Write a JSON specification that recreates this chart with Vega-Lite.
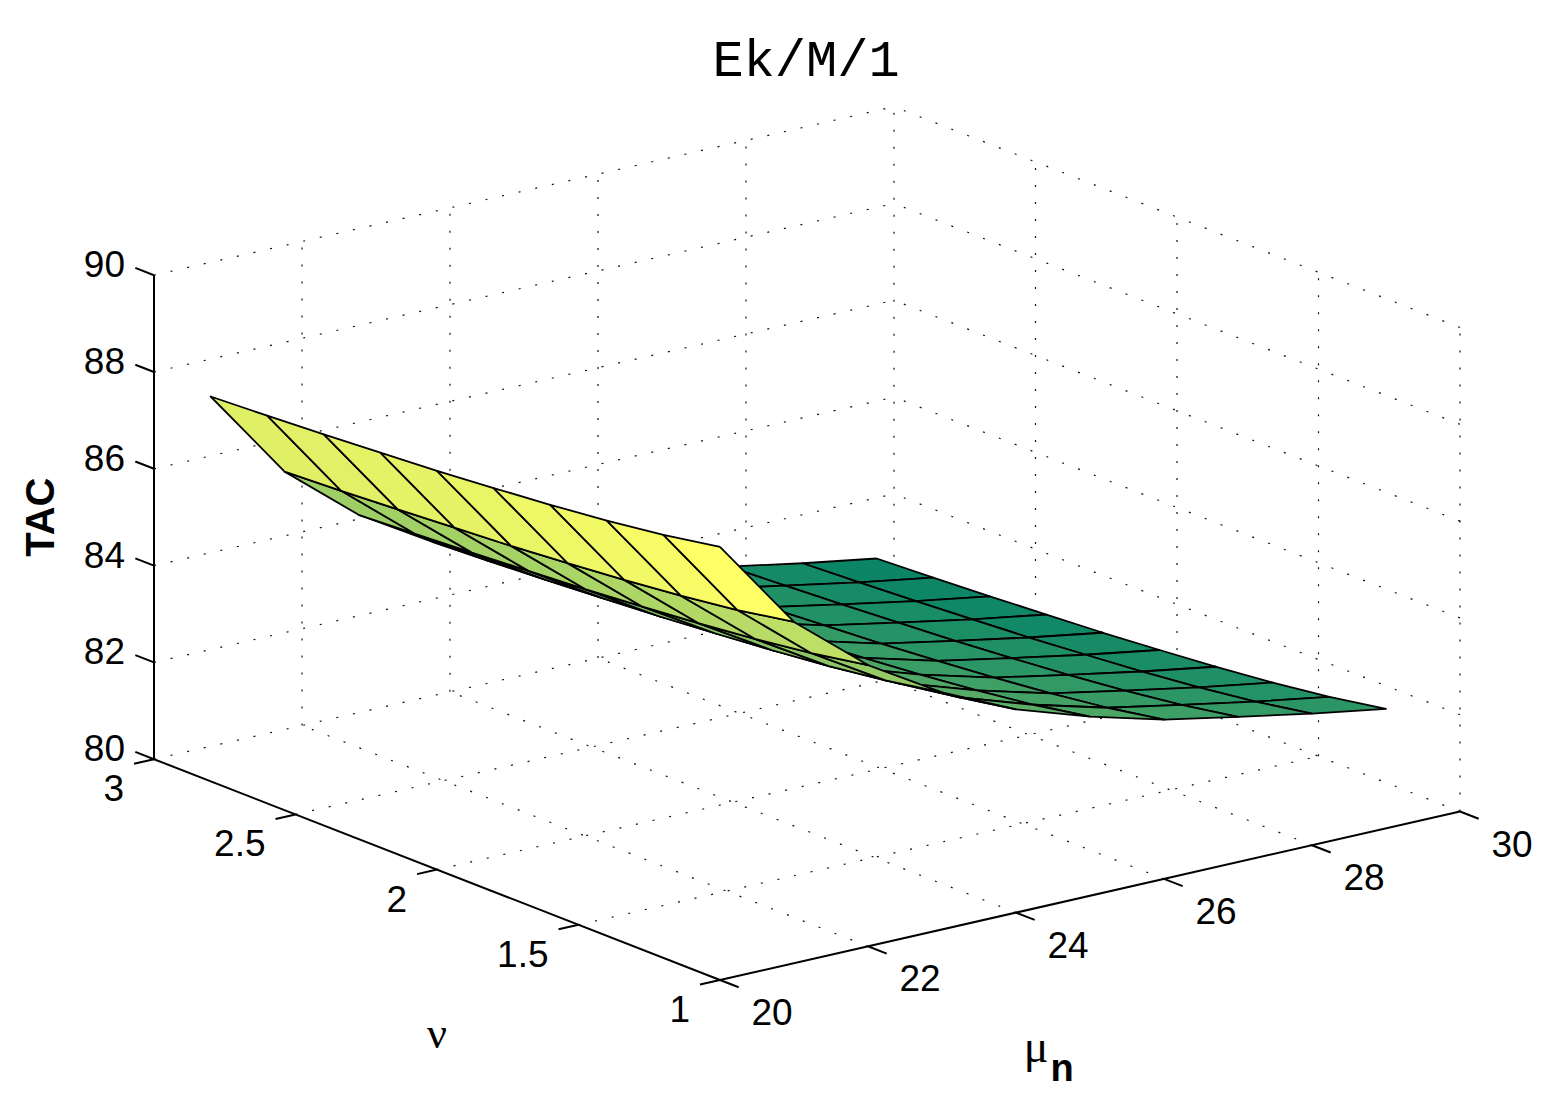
{
  "$schema": "https://vega.github.io/schema/vega-lite/v6.json",
  "width": 1554,
  "height": 1113,
  "padding": 0,
  "autosize": {"type": "none"},
  "background": "white",
  "config": {"view": {"stroke": null}},
  "title": {"text": "Ek/M/1", "font": "Liberation Mono", "fontSize": 52, "fontWeight": "normal", "color": "black", "anchor": "middle", "frame": "group", "offset": -75, "baseline": "alphabetic", "dx": 29, "dy": 53},
  "datasets": {
    "surf": [
      {"mu":29,"nu":2.8,"tac":81.47},{"mu":28,"nu":2.8,"tac":81.72},{"mu":27,"nu":2.8,"tac":82.00},{"mu":26,"nu":2.8,"tac":82.29},{"mu":25,"nu":2.8,"tac":82.70},{"mu":24,"nu":2.8,"tac":83.20},{"mu":23,"nu":2.8,"tac":83.90},{"mu":22,"nu":2.8,"tac":84.81},{"mu":21,"nu":2.8,"tac":86.05},{"mu":20,"nu":2.8,"tac":87.95},
      {"mu":29,"nu":2.6,"tac":81.53},{"mu":28,"nu":2.6,"tac":81.78},{"mu":27,"nu":2.6,"tac":82.06},{"mu":26,"nu":2.6,"tac":82.35},{"mu":25,"nu":2.6,"tac":82.76},{"mu":24,"nu":2.6,"tac":83.26},{"mu":23,"nu":2.6,"tac":83.96},{"mu":22,"nu":2.6,"tac":84.87},{"mu":21,"nu":2.6,"tac":86.11},{"mu":20,"nu":2.6,"tac":88.01},
      {"mu":29,"nu":2.4,"tac":81.60},{"mu":28,"nu":2.4,"tac":81.85},{"mu":27,"nu":2.4,"tac":82.13},{"mu":26,"nu":2.4,"tac":82.42},{"mu":25,"nu":2.4,"tac":82.83},{"mu":24,"nu":2.4,"tac":83.33},{"mu":23,"nu":2.4,"tac":84.03},{"mu":22,"nu":2.4,"tac":84.94},{"mu":21,"nu":2.4,"tac":86.18},{"mu":20,"nu":2.4,"tac":88.08},
      {"mu":29,"nu":2.2,"tac":81.68},{"mu":28,"nu":2.2,"tac":81.93},{"mu":27,"nu":2.2,"tac":82.21},{"mu":26,"nu":2.2,"tac":82.50},{"mu":25,"nu":2.2,"tac":82.91},{"mu":24,"nu":2.2,"tac":83.41},{"mu":23,"nu":2.2,"tac":84.11},{"mu":22,"nu":2.2,"tac":85.02},{"mu":21,"nu":2.2,"tac":86.26},{"mu":20,"nu":2.2,"tac":88.16},
      {"mu":29,"nu":2.0,"tac":81.76},{"mu":28,"nu":2.0,"tac":82.01},{"mu":27,"nu":2.0,"tac":82.29},{"mu":26,"nu":2.0,"tac":82.58},{"mu":25,"nu":2.0,"tac":82.99},{"mu":24,"nu":2.0,"tac":83.49},{"mu":23,"nu":2.0,"tac":84.19},{"mu":22,"nu":2.0,"tac":85.10},{"mu":21,"nu":2.0,"tac":86.34},{"mu":20,"nu":2.0,"tac":88.24},
      {"mu":29,"nu":1.8,"tac":81.86},{"mu":28,"nu":1.8,"tac":82.11},{"mu":27,"nu":1.8,"tac":82.39},{"mu":26,"nu":1.8,"tac":82.68},{"mu":25,"nu":1.8,"tac":83.09},{"mu":24,"nu":1.8,"tac":83.59},{"mu":23,"nu":1.8,"tac":84.29},{"mu":22,"nu":1.8,"tac":85.20},{"mu":21,"nu":1.8,"tac":86.44},{"mu":20,"nu":1.8,"tac":88.34},
      {"mu":29,"nu":1.6,"tac":81.97},{"mu":28,"nu":1.6,"tac":82.22},{"mu":27,"nu":1.6,"tac":82.50},{"mu":26,"nu":1.6,"tac":82.79},{"mu":25,"nu":1.6,"tac":83.20},{"mu":24,"nu":1.6,"tac":83.70},{"mu":23,"nu":1.6,"tac":84.40},{"mu":22,"nu":1.6,"tac":85.31},{"mu":21,"nu":1.6,"tac":86.55},{"mu":20,"nu":1.6,"tac":88.45},
      {"mu":29,"nu":1.4,"tac":82.10},{"mu":28,"nu":1.4,"tac":82.35},{"mu":27,"nu":1.4,"tac":82.63},{"mu":26,"nu":1.4,"tac":82.92},{"mu":25,"nu":1.4,"tac":83.33},{"mu":24,"nu":1.4,"tac":83.83},{"mu":23,"nu":1.4,"tac":84.53},{"mu":22,"nu":1.4,"tac":85.44},{"mu":21,"nu":1.4,"tac":86.68},{"mu":20,"nu":1.4,"tac":88.58},
      {"mu":29,"nu":1.2,"tac":82.26},{"mu":28,"nu":1.2,"tac":82.51},{"mu":27,"nu":1.2,"tac":82.79},{"mu":26,"nu":1.2,"tac":83.08},{"mu":25,"nu":1.2,"tac":83.49},{"mu":24,"nu":1.2,"tac":83.99},{"mu":23,"nu":1.2,"tac":84.69},{"mu":22,"nu":1.2,"tac":85.60},{"mu":21,"nu":1.2,"tac":86.84},{"mu":20,"nu":1.2,"tac":88.74},
      {"mu":29,"nu":1.0,"tac":82.47},{"mu":28,"nu":1.0,"tac":82.72},{"mu":27,"nu":1.0,"tac":83.00},{"mu":26,"nu":1.0,"tac":83.29},{"mu":25,"nu":1.0,"tac":83.70},{"mu":24,"nu":1.0,"tac":84.20},{"mu":23,"nu":1.0,"tac":84.90},{"mu":22,"nu":1.0,"tac":85.81},{"mu":21,"nu":1.0,"tac":87.05},{"mu":20,"nu":1.0,"tac":88.95}
    ],
    "grid": [
      {"mu":22,"nu":1,"z":80,"mu2":22,"nu2":3,"z2":80},
      {"mu":24,"nu":1,"z":80,"mu2":24,"nu2":3,"z2":80},
      {"mu":26,"nu":1,"z":80,"mu2":26,"nu2":3,"z2":80},
      {"mu":28,"nu":1,"z":80,"mu2":28,"nu2":3,"z2":80},
      {"mu":30,"nu":1,"z":80,"mu2":30,"nu2":3,"z2":80},
      {"mu":20,"nu":1.5,"z":80,"mu2":30,"nu2":1.5,"z2":80},
      {"mu":20,"nu":2,"z":80,"mu2":30,"nu2":2,"z2":80},
      {"mu":20,"nu":2.5,"z":80,"mu2":30,"nu2":2.5,"z2":80},
      {"mu":20,"nu":3,"z":80,"mu2":30,"nu2":3,"z2":80},
      {"mu":22,"nu":3,"z":80,"mu2":22,"nu2":3,"z2":90},
      {"mu":24,"nu":3,"z":80,"mu2":24,"nu2":3,"z2":90},
      {"mu":26,"nu":3,"z":80,"mu2":26,"nu2":3,"z2":90},
      {"mu":28,"nu":3,"z":80,"mu2":28,"nu2":3,"z2":90},
      {"mu":30,"nu":3,"z":80,"mu2":30,"nu2":3,"z2":90},
      {"mu":20,"nu":3,"z":82,"mu2":30,"nu2":3,"z2":82},
      {"mu":20,"nu":3,"z":84,"mu2":30,"nu2":3,"z2":84},
      {"mu":20,"nu":3,"z":86,"mu2":30,"nu2":3,"z2":86},
      {"mu":20,"nu":3,"z":88,"mu2":30,"nu2":3,"z2":88},
      {"mu":20,"nu":3,"z":90,"mu2":30,"nu2":3,"z2":90},
      {"mu":30,"nu":1,"z":80,"mu2":30,"nu2":1,"z2":90},
      {"mu":30,"nu":1.5,"z":80,"mu2":30,"nu2":1.5,"z2":90},
      {"mu":30,"nu":2,"z":80,"mu2":30,"nu2":2,"z2":90},
      {"mu":30,"nu":2.5,"z":80,"mu2":30,"nu2":2.5,"z2":90},
      {"mu":30,"nu":1,"z":82,"mu2":30,"nu2":3,"z2":82},
      {"mu":30,"nu":1,"z":84,"mu2":30,"nu2":3,"z2":84},
      {"mu":30,"nu":1,"z":86,"mu2":30,"nu2":3,"z2":86},
      {"mu":30,"nu":1,"z":88,"mu2":30,"nu2":3,"z2":88},
      {"mu":30,"nu":1,"z":90,"mu2":30,"nu2":3,"z2":90}
    ],
    "axes": [
      {"mu":20,"nu":3,"z":80,"mu2":20,"nu2":3,"z2":90},
      {"mu":20,"nu":3,"z":80,"mu2":20,"nu2":1,"z2":80},
      {"mu":20,"nu":1,"z":80,"mu2":30,"nu2":1,"z2":80}
    ],
    "ticks": [
      {"axis":"z","v":"80","mu":20,"nu":3,"z":80},
      {"axis":"z","v":"82","mu":20,"nu":3,"z":82},
      {"axis":"z","v":"84","mu":20,"nu":3,"z":84},
      {"axis":"z","v":"86","mu":20,"nu":3,"z":86},
      {"axis":"z","v":"88","mu":20,"nu":3,"z":88},
      {"axis":"z","v":"90","mu":20,"nu":3,"z":90},
      {"axis":"nu","v":"1","mu":20,"nu":1,"z":80},
      {"axis":"nu","v":"1.5","mu":20,"nu":1.5,"z":80},
      {"axis":"nu","v":"2","mu":20,"nu":2,"z":80},
      {"axis":"nu","v":"2.5","mu":20,"nu":2.5,"z":80},
      {"axis":"nu","v":"3","mu":20,"nu":3,"z":80},
      {"axis":"mu","v":"20","mu":20,"nu":1,"z":80},
      {"axis":"mu","v":"22","mu":22,"nu":1,"z":80},
      {"axis":"mu","v":"24","mu":24,"nu":1,"z":80},
      {"axis":"mu","v":"26","mu":26,"nu":1,"z":80},
      {"axis":"mu","v":"28","mu":28,"nu":1,"z":80},
      {"axis":"mu","v":"30","mu":30,"nu":1,"z":80}
    ],
    "titles": [
      {"role":"z","text":"TAC","mu":20,"nu":3,"z":85},
      {"role":"nu","text":"ν","mu":20,"nu":2,"z":80},
      {"role":"mu","text":"μ","mu":25,"nu":1,"z":80},
      {"role":"sub","text":"n","mu":25,"nu":1,"z":80}
    ]
  },
  "layer": [
    {
      "data": {"name": "grid"},
      "transform": [
        {"calculate": "720 + 74*(datum.mu-20) - 283*(datum.nu-1)", "as": "px"},
        {"calculate": "133 + 16.85*(datum.mu-20) + 110.4*(datum.nu-1) + 48.4*(datum.z-80)", "as": "py"},
        {"calculate": "720 + 74*(datum.mu2-20) - 283*(datum.nu2-1)", "as": "px2"},
        {"calculate": "133 + 16.85*(datum.mu2-20) + 110.4*(datum.nu2-1) + 48.4*(datum.z2-80)", "as": "py2"}
      ],
      "mark": {"type": "rule", "stroke": "#111111", "strokeWidth": 1.2, "strokeDash": [2, 15]},
      "encoding": {
        "x": {"field": "px", "type": "quantitative", "scale": {"domain": [0, 1554], "nice": false, "zero": false}, "axis": null},
        "y": {"field": "py", "type": "quantitative", "scale": {"domain": [0, 1113], "nice": false, "zero": false}, "axis": null},
        "x2": {"field": "px2"},
        "y2": {"field": "py2"}
      }
    },
    {
      "data": {"name": "axes"},
      "transform": [
        {"calculate": "720 + 74*(datum.mu-20) - 283*(datum.nu-1)", "as": "px"},
        {"calculate": "133 + 16.85*(datum.mu-20) + 110.4*(datum.nu-1) + 48.4*(datum.z-80)", "as": "py"},
        {"calculate": "720 + 74*(datum.mu2-20) - 283*(datum.nu2-1)", "as": "px2"},
        {"calculate": "133 + 16.85*(datum.mu2-20) + 110.4*(datum.nu2-1) + 48.4*(datum.z2-80)", "as": "py2"}
      ],
      "mark": {"type": "rule", "stroke": "black", "strokeWidth": 2},
      "encoding": {
        "x": {"field": "px", "type": "quantitative", "axis": null},
        "y": {"field": "py", "type": "quantitative", "axis": null},
        "x2": {"field": "px2"},
        "y2": {"field": "py2"}
      }
    },
    {
      "data": {"name": "ticks"},
      "transform": [
        {"calculate": "datum.mu - (datum.axis == 'nu' ? 0.27 : 0)", "as": "tmu"},
        {"calculate": "datum.nu + (datum.axis == 'z' ? 0.066 : (datum.axis == 'mu' ? -0.066 : 0))", "as": "tnu"},
        {"calculate": "720 + 74*(datum.mu-20) - 283*(datum.nu-1)", "as": "px"},
        {"calculate": "133 + 16.85*(datum.mu-20) + 110.4*(datum.nu-1) + 48.4*(datum.z-80)", "as": "py"},
        {"calculate": "720 + 74*(datum.tmu-20) - 283*(datum.tnu-1)", "as": "px2"},
        {"calculate": "133 + 16.85*(datum.tmu-20) + 110.4*(datum.tnu-1) + 48.4*(datum.z-80)", "as": "py2"}
      ],
      "mark": {"type": "rule", "stroke": "black", "strokeWidth": 2},
      "encoding": {
        "x": {"field": "px", "type": "quantitative", "axis": null},
        "y": {"field": "py", "type": "quantitative", "axis": null},
        "x2": {"field": "px2"},
        "y2": {"field": "py2"}
      }
    },
    {
      "data": {"name": "ticks"},
      "transform": [
        {"filter": "datum.axis == 'z'"},
        {"calculate": "720 + 74*(datum.mu-20) - 283*(datum.nu-1)", "as": "px"},
        {"calculate": "133 + 16.85*(datum.mu-20) + 110.4*(datum.nu-1) + 48.4*(datum.z-80)", "as": "py"}
      ],
      "mark": {"type": "text", "font": "Liberation Sans", "fontSize": 37, "align": "right", "baseline": "middle", "dx": -29, "dy": -9, "color": "black"},
      "encoding": {
        "x": {"field": "px", "type": "quantitative", "axis": null},
        "y": {"field": "py", "type": "quantitative", "axis": null},
        "text": {"field": "v", "type": "nominal"}
      }
    },
    {
      "data": {"name": "ticks"},
      "transform": [
        {"filter": "datum.axis == 'nu'"},
        {"calculate": "720 + 74*(datum.mu-20) - 283*(datum.nu-1)", "as": "px"},
        {"calculate": "133 + 16.85*(datum.mu-20) + 110.4*(datum.nu-1) + 48.4*(datum.z-80)", "as": "py"}
      ],
      "mark": {"type": "text", "font": "Liberation Sans", "fontSize": 37, "align": "right", "baseline": "middle", "dx": -30, "dy": 31, "color": "black"},
      "encoding": {
        "x": {"field": "px", "type": "quantitative", "axis": null},
        "y": {"field": "py", "type": "quantitative", "axis": null},
        "text": {"field": "v", "type": "nominal"}
      }
    },
    {
      "data": {"name": "ticks"},
      "transform": [
        {"filter": "datum.axis == 'mu'"},
        {"calculate": "720 + 74*(datum.mu-20) - 283*(datum.nu-1)", "as": "px"},
        {"calculate": "133 + 16.85*(datum.mu-20) + 110.4*(datum.nu-1) + 48.4*(datum.z-80)", "as": "py"}
      ],
      "mark": {"type": "text", "font": "Liberation Sans", "fontSize": 37, "align": "center", "baseline": "middle", "dx": 52, "dy": 34, "color": "black"},
      "encoding": {
        "x": {"field": "px", "type": "quantitative", "axis": null},
        "y": {"field": "py", "type": "quantitative", "axis": null},
        "text": {"field": "v", "type": "nominal"}
      }
    },
    {
      "data": {"name": "surf"},
      "transform": [
        {"calculate": "round(datum.mu - 20)", "as": "i"},
        {"calculate": "round((datum.nu - 1) * 5)", "as": "j"},
        {"calculate": "[0, 1, 2, 3, 4]", "as": "k"},
        {"flatten": ["k"]},
        {"calculate": "datum.i - ((datum.k == 1 || datum.k == 2) ? 1 : 0)", "as": "ci"},
        {"calculate": "datum.j - ((datum.k == 2 || datum.k == 3) ? 1 : 0)", "as": "cj"},
        {"filter": "datum.ci >= 0 && datum.ci <= 8 && datum.cj >= 0 && datum.cj <= 8"},
        {"calculate": "'c' + datum.ci + '_' + datum.cj", "as": "cell"},
        {"joinaggregate": [{"op": "max", "field": "tac", "as": "ctac"}], "groupby": ["cell"]},
        {"calculate": "720 + 74*(datum.mu-20) - 283*(datum.nu-1)", "as": "px"},
        {"calculate": "133 + 16.85*(datum.mu-20) + 110.4*(datum.nu-1) + 48.4*(datum.tac-80)", "as": "py"}
      ],
      "mark": {"type": "line", "filled": true, "stroke": "black", "strokeWidth": 1.8, "strokeJoin": "round"},
      "encoding": {
        "x": {"field": "px", "type": "quantitative", "axis": null},
        "y": {"field": "py", "type": "quantitative", "axis": null},
        "detail": {"field": "cell", "type": "nominal"},
        "order": {"field": "k", "type": "quantitative"},
        "color": {"field": "ctac", "type": "quantitative", "scale": {"domain": [81.47, 88.95], "range": ["#008066", "#ffff66"], "interpolate": "rgb", "nice": false, "zero": false}, "legend": null}
      }
    },
    {
      "data": {"name": "titles"},
      "transform": [
        {"filter": "datum.role == 'z'"},
        {"calculate": "720 + 74*(datum.mu-20) - 283*(datum.nu-1)", "as": "px"},
        {"calculate": "133 + 16.85*(datum.mu-20) + 110.4*(datum.nu-1) + 48.4*(datum.z-80)", "as": "py"}
      ],
      "mark": {"type": "text", "font": "Liberation Sans", "fontSize": 40, "fontWeight": "bold", "angle": 270, "align": "center", "baseline": "middle", "dy": -112, "color": "black"},
      "encoding": {
        "x": {"field": "px", "type": "quantitative", "axis": null},
        "y": {"field": "py", "type": "quantitative", "axis": null},
        "text": {"field": "text", "type": "nominal"}
      }
    },
    {
      "data": {"name": "titles"},
      "transform": [
        {"filter": "datum.role == 'nu'"},
        {"calculate": "720 + 74*(datum.mu-20) - 283*(datum.nu-1)", "as": "px"},
        {"calculate": "133 + 16.85*(datum.mu-20) + 110.4*(datum.nu-1) + 48.4*(datum.z-80)", "as": "py"}
      ],
      "mark": {"type": "text", "font": "Liberation Serif", "fontSize": 44, "align": "center", "baseline": "alphabetic", "dx": 0, "dy": 178, "color": "black"},
      "encoding": {
        "x": {"field": "px", "type": "quantitative", "axis": null},
        "y": {"field": "py", "type": "quantitative", "axis": null},
        "text": {"field": "text", "type": "nominal"}
      }
    },
    {
      "data": {"name": "titles"},
      "transform": [
        {"filter": "datum.role == 'mu'"},
        {"calculate": "720 + 74*(datum.mu-20) - 283*(datum.nu-1)", "as": "px"},
        {"calculate": "133 + 16.85*(datum.mu-20) + 110.4*(datum.nu-1) + 48.4*(datum.z-80)", "as": "py"}
      ],
      "mark": {"type": "text", "font": "Liberation Serif", "fontSize": 46, "align": "center", "baseline": "alphabetic", "dx": -54, "dy": 166, "color": "black"},
      "encoding": {
        "x": {"field": "px", "type": "quantitative", "axis": null},
        "y": {"field": "py", "type": "quantitative", "axis": null},
        "text": {"field": "text", "type": "nominal"}
      }
    },
    {
      "data": {"name": "titles"},
      "transform": [
        {"filter": "datum.role == 'sub'"},
        {"calculate": "720 + 74*(datum.mu-20) - 283*(datum.nu-1)", "as": "px"},
        {"calculate": "133 + 16.85*(datum.mu-20) + 110.4*(datum.nu-1) + 48.4*(datum.z-80)", "as": "py"}
      ],
      "mark": {"type": "text", "font": "Liberation Sans", "fontSize": 38, "fontWeight": "bold", "align": "center", "baseline": "alphabetic", "dx": -28, "dy": 185, "color": "black"},
      "encoding": {
        "x": {"field": "px", "type": "quantitative", "axis": null},
        "y": {"field": "py", "type": "quantitative", "axis": null},
        "text": {"field": "text", "type": "nominal"}
      }
    }
  ]
}
